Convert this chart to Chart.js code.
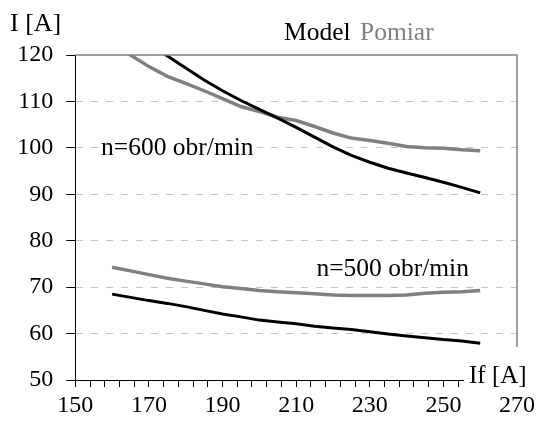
<!DOCTYPE html>
<html>
<head>
<meta charset="utf-8">
<script src="https://cdn.jsdelivr.net/npm/chart.js@4/dist/chart.umd.min.js"></script>
<style>
  html, body { margin: 0; padding: 0; background: #fff; }
</style>
</head>
<body>
<canvas id="chart" width="540" height="435"></canvas>
<script>
// prad wzbudzenia If [A]
const pradIf = [160, 165, 170, 175, 180, 185, 190, 195, 200, 205, 210, 215, 220, 225, 230, 235, 240, 245, 250, 255, 260];

// n = 600 obr/min
const model600  = [null, null, 122.4, 119.8, 117.2, 114.6, 112.3, 110.2, 108.3, 106.4, 104.4, 102.3, 100.2, 98.4, 96.9, 95.6, 94.6, 93.6, 92.6, 91.5, 90.3];
const pomiar600 = [122.5, 120.0, 117.5, 115.4, 113.9, 112.3, 110.6, 108.9, 107.8, 106.6, 105.9, 104.6, 103.2, 102.1, 101.6, 101.0, 100.3, 100.0, 99.9, 99.6, 99.4];

// n = 500 obr/min
const model500  = [68.5, 67.8, 67.1, 66.5, 65.8, 65.0, 64.2, 63.6, 62.9, 62.5, 62.1, 61.6, 61.2, 60.9, 60.4, 59.9, 59.5, 59.1, 58.7, 58.4, 57.9];
const pomiar500 = [74.3, 73.5, 72.7, 71.9, 71.3, 70.7, 70.1, 69.7, 69.3, 69.0, 68.8, 68.6, 68.3, 68.2, 68.2, 68.2, 68.3, 68.7, 68.9, 69.0, 69.3];

const serif = '"Liberation Serif", "Times New Roman", serif';
const grey = '#808080';

function pts(values) {
  return pradIf.map((x, i) => ({ x: x, y: values[i] }));
}

function line(label, values, color, width) {
  return {
    label: label,
    data: pts(values),
    borderColor: color,
    backgroundColor: color,
    borderWidth: width,
    pointRadius: 0,
    tension: 0,
    clip: 0
  };
}

// napisy, legenda i ramka wykresu
const napisy = {
  id: 'napisy',
  afterDraw(chart) {
    const ctx = chart.ctx;
    const a = chart.chartArea;
    const x = chart.scales.x;
    const y = chart.scales.y;
    ctx.save();

    // ramka gorna i prawa
    ctx.strokeStyle = grey;
    ctx.lineWidth = 1.5;
    ctx.beginPath();
    ctx.moveTo(a.left, a.top);
    ctx.lineTo(a.right, a.top);
    ctx.lineTo(a.right, a.bottom);
    ctx.stroke();

    ctx.font = '25px ' + serif;
    ctx.textBaseline = 'middle';

    // opis osi X z bialym tlem
    ctx.fillStyle = '#fff';
    ctx.fillRect(464, 347, 76, 44);
    ctx.fillStyle = '#000';
    ctx.textAlign = 'left';
    ctx.fillText('If [A]', 469, a.bottom - 4);

    // opis osi Y
    ctx.font = '26px ' + serif;
    ctx.fillText('I [A]', 10, 24);

    // legenda
    ctx.font = '25.5px ' + serif;
    const ds = chart.data.datasets;
    ctx.fillStyle = ds[0].borderColor;
    ctx.fillText(ds[0].label, 284, 33);
    ctx.fillStyle = ds[1].borderColor;
    ctx.fillText(ds[1].label, 360, 33);

    // opisy krzywych
    const opisy = [
      { t: 'n=600 obr/min', ix: 157, iy: 100 },
      { t: 'n=500 obr/min', ix: 215.5, iy: 73.8 }
    ];
    opisy.forEach(o => {
      const px = x.getPixelForValue(o.ix);
      const py = y.getPixelForValue(o.iy);
      const w = ctx.measureText(o.t).width;
      ctx.fillStyle = '#fff';
      ctx.fillRect(px - 2, py - 10, w + 4, 20);
      ctx.fillStyle = '#000';
      ctx.fillText(o.t, px, py);
    });

    ctx.restore();
  }
};

const config = {
  type: 'line',
  data: {
    datasets: [
      line('Model', model600, '#000', 3),
      line('Pomiar', pomiar600, grey, 3.5),
      line('Model', model500, '#000', 3),
      line('Pomiar', pomiar500, grey, 3.5)
    ]
  },
  options: {
    responsive: false,
    animation: false,
    layout: { padding: { top: 55, right: 23, left: 0, bottom: 0 } },
    plugins: {
      legend: { display: false },
      tooltip: { enabled: false }
    },
    scales: {
      x: {
        type: 'linear',
        min: 150,
        max: 270,
        afterFit(s) { s.height = 55; },
        ticks: {
          stepSize: 4,
          autoSkip: false,
          maxRotation: 0,
          padding: 4,
          color: '#000',
          font: { family: serif, size: 24 },
          callback: v => ((v - 150) % 20 === 0 ? v : '')
        },
        grid: { drawOnChartArea: false, drawTicks: true, tickLength: 7, tickColor: '#000' },
        border: { color: '#000', width: 1 }
      },
      y: {
        min: 50,
        max: 120,
        afterFit(s) { s.width = 75.3; },
        ticks: {
          stepSize: 10,
          padding: 13,
          color: '#000',
          font: { family: serif, size: 24 }
        },
        grid: {
          color: c => (c.tick && (c.tick.value === 120 || c.tick.value === 50) ? 'rgba(0,0,0,0)' : '#c4c4c4'),
          lineWidth: 1,
          tickLength: 9,
          tickColor: '#000'
        },
        border: { color: '#000', width: 1, dash: [7, 8] }
      }
    }
  },
  plugins: [napisy]
};

new Chart(document.getElementById('chart'), config);
</script>
</body>
</html>
